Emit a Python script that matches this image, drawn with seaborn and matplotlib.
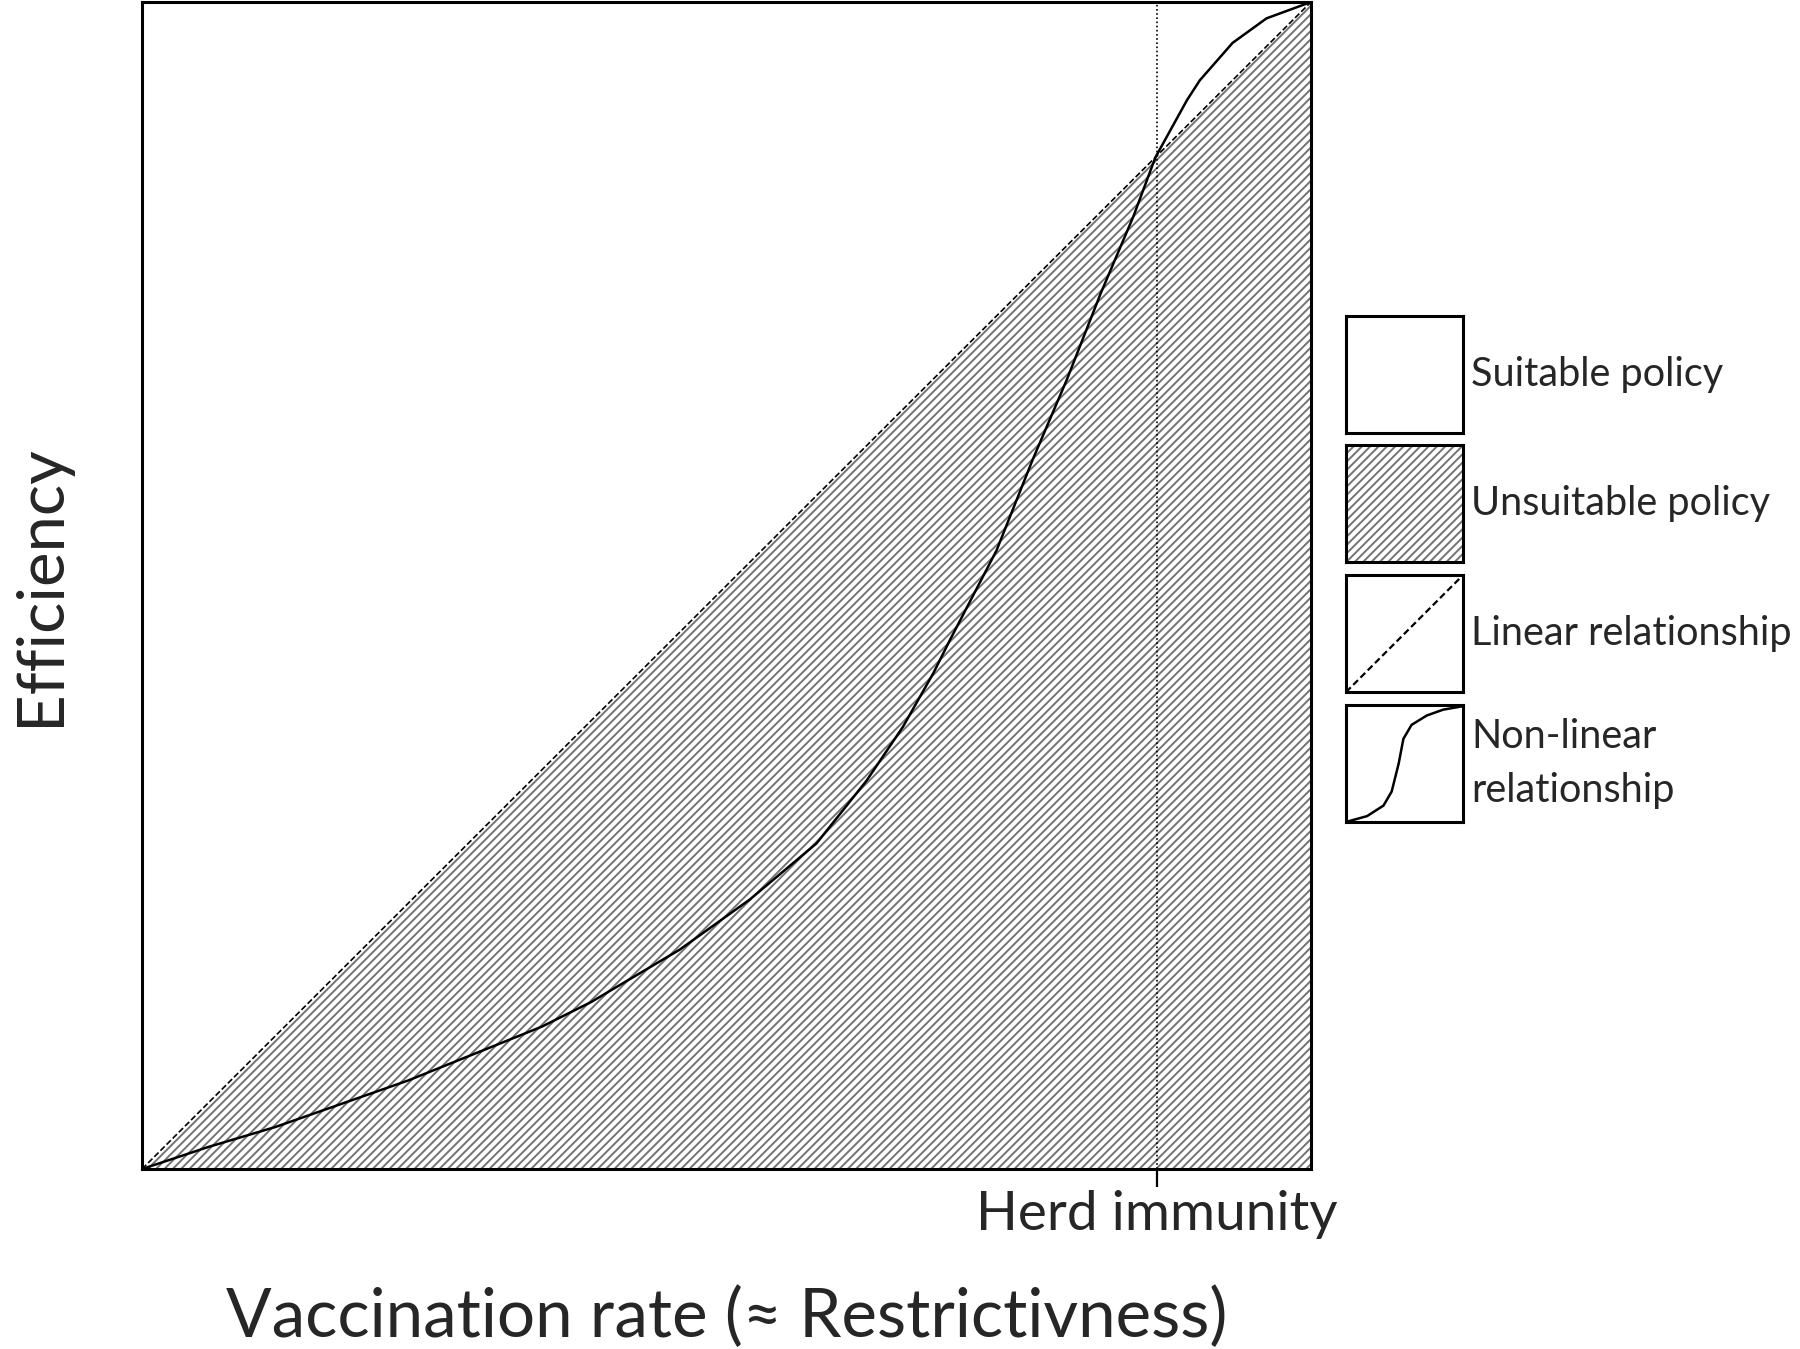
import numpy as np
import seaborn as sns
import matplotlib.pyplot as plt

# Curve (fractions of the axis range)
rate = [0.0, 0.057, 0.114, 0.171, 0.228, 0.285, 0.342, 0.384, 0.460, 0.520,
        0.577, 0.620, 0.651, 0.677, 0.691, 0.731, 0.762, 0.791, 0.820, 0.848,
        0.867, 0.894, 0.905, 0.933, 0.962, 1.0]
efficiency = [0.0, 0.019, 0.036, 0.056, 0.076, 0.099, 0.122, 0.143, 0.188, 0.231,
              0.279, 0.333, 0.379, 0.425, 0.453, 0.530, 0.608, 0.676, 0.750, 0.816,
              0.867, 0.916, 0.933, 0.965, 0.986, 1.0]
linear_x = [0.0, 1.0]
linear_y = [0.0, 1.0]
herd_immunity = 0.868

# small S curve drawn in the legend box
icon_x = [0.0, 0.18, 0.32, 0.39, 0.45, 0.49, 0.56, 0.69, 0.83, 1.0]
icon_y = [0.0, 0.05, 0.14, 0.26, 0.50, 0.71, 0.83, 0.91, 0.96, 0.99]

legend_labels = ["Suitable policy", "Unsuitable policy",
                 "Linear relationship", "Non-linear\nrelationship"]

sns.set_style("white")
plt.rcParams['font.family'] = ['Lato', 'DejaVu Sans']
plt.rcParams['hatch.linewidth'] = 1.4

fig = plt.figure(figsize=(18, 13.49), dpi=100)
ax = fig.add_axes([0.0789, 0.1334, 0.6494, 0.8651])

# unsuitable area = everything under the linear relationship
ax.fill_between(linear_x, linear_y, 0, facecolor='white', edgecolor='#737373',
                hatch='////', linewidth=0)
sns.lineplot(x=linear_x, y=linear_y, ax=ax, color='black', linewidth=1.2,
             linestyle=(0, (3.6, 1.6)))
sns.lineplot(x=rate, y=efficiency, ax=ax, color='black', linewidth=1.8)
ax.axvline(herd_immunity, color='black', linewidth=1.2, linestyle=(0, (1, 1.5)))

ax.set_xlim(0, 1)
ax.set_ylim(0, 1)
ax.set_yticks([])
ax.set_xticks([herd_immunity])
ax.set_xticklabels(["Herd immunity"], fontsize=39.5)
ax.tick_params(axis='x', direction='out', length=13, width=1.6, pad=2,
               bottom=True, color='black')
ax.set_xlabel("Vaccination rate (≈ Restrictivness)", fontsize=48.5, labelpad=34)
ax.set_ylabel("Efficiency", fontsize=47, labelpad=52)
for s in ax.spines.values():
    s.set_linewidth(2.2)
    s.set_color('black')

# legend built from small boxes
box_bottoms = [0.679, 0.5834, 0.487, 0.3907]
for i, (b, lab) in enumerate(zip(box_bottoms, legend_labels)):
    lax = fig.add_axes([0.7478, b, 0.065, 0.0867])
    lax.set_xlim(0, 1)
    lax.set_ylim(0, 1)
    lax.set_xticks([])
    lax.set_yticks([])
    if i == 1:
        lax.fill_between([0, 1], [1, 1], 0, facecolor='white', edgecolor='#737373',
                         hatch='////', linewidth=0)
    elif i == 2:
        sns.lineplot(x=linear_x, y=linear_y, ax=lax, color='black', linewidth=1.6,
                     linestyle=(0, (3, 1.6)))
    elif i == 3:
        sns.lineplot(x=icon_x, y=icon_y, ax=lax, color='black', linewidth=1.8)
    for s in lax.spines.values():
        s.set_linewidth(2.2)
        s.set_color('black')
    fig.text(0.8172, b + 0.0867 / 2, lab, fontsize=28.5, va='center', ha='left',
             linespacing=1.55)

fig.savefig("out.png", dpi=100)
